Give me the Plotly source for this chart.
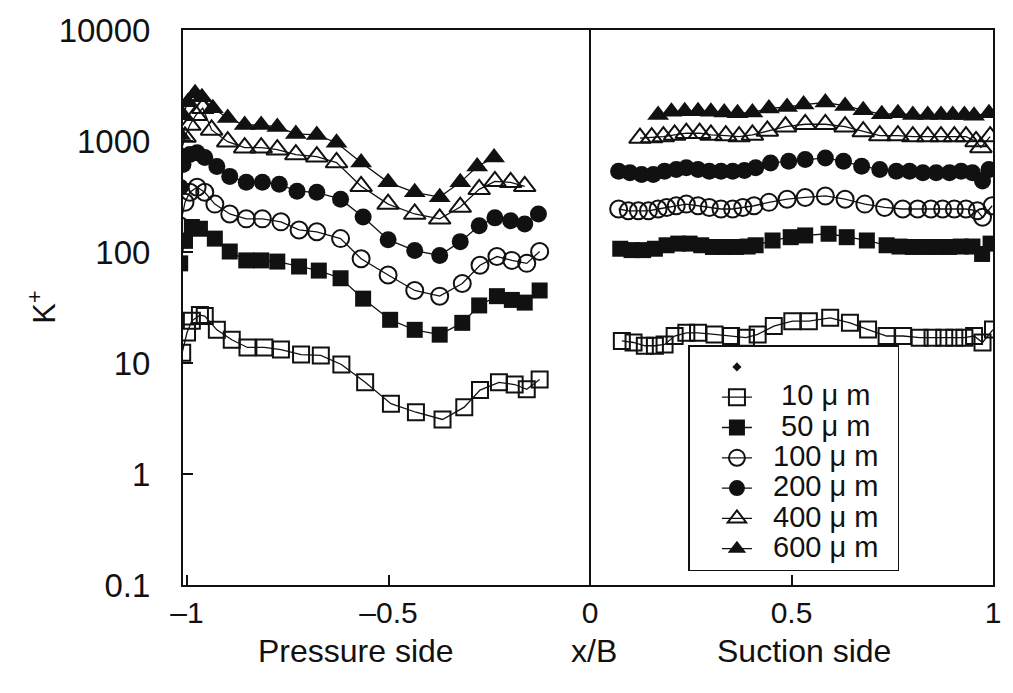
import plotly.graph_objects as go

# ---- K+ profiles along the blade, x/B < 0: pressure side, x/B > 0: suction side ----

# 10 um
x10_p = [-1.012, -1.0, -0.988, -0.968, -0.956, -0.926, -0.889, -0.850, -0.808, -0.767, -0.717, -0.668,
         -0.617, -0.558, -0.494, -0.432, -0.366, -0.312, -0.273, -0.226, -0.187, -0.157, -0.125]
k10_p = [12.4, 18.8, 24, 27, 26.5, 19.9, 16.2, 13.8, 13.8, 13.2, 11.9, 11.7,
         9.7, 6.7, 4.3, 3.6, 3.1, 4.0, 5.7, 6.7, 6.4, 5.8, 7.1]
x10_s = [0.079, 0.108, 0.136, 0.161, 0.185, 0.210, 0.239, 0.268, 0.309, 0.350, 0.387, 0.416, 0.456, 0.502,
         0.543, 0.596, 0.645, 0.690, 0.736, 0.777, 0.818, 0.850, 0.879, 0.904, 0.929, 0.953, 0.974, 1.0]
k10_s = [15.8, 15.3, 14.3, 14.3, 14.7, 17.5, 18.7, 18.7, 18.1, 17.5, 16.9, 18.1, 21.5, 23.8,
         23.8, 25.5, 23, 20, 17.5, 17.5, 16.9, 16.9, 16.9, 16.9, 16.9, 17.5, 15.3, 20]

# 50 um
x50_p = [-1.017, -1.005, -0.988, -0.968, -0.931, -0.894, -0.853, -0.816, -0.776, -0.722, -0.673, -0.619,
         -0.563, -0.496, -0.435, -0.373, -0.317, -0.275, -0.231, -0.194, -0.162, -0.125]
k50_p = [79, 126, 168, 162, 132, 101, 84, 84, 82, 74, 68, 58,
         38, 24.5, 19.9, 18, 23, 33, 40, 37, 35, 45]
x50_s = [0.075, 0.103, 0.132, 0.161, 0.190, 0.219, 0.247, 0.276, 0.305, 0.334, 0.362, 0.391, 0.411, 0.453,
         0.498, 0.534, 0.592, 0.637, 0.687, 0.736, 0.768, 0.801, 0.834, 0.862, 0.891, 0.920, 0.949, 0.973, 0.994]
k50_s = [107, 104, 104, 107, 115, 119, 119, 115, 111, 111, 111, 112, 115, 127,
         136, 141, 146, 136, 127, 115, 112, 111, 111, 111, 111, 112, 112, 96, 119]

# 100 um
x100_p = [-1.017, -1.005, -0.993, -0.975, -0.956, -0.931, -0.894, -0.853, -0.813, -0.767, -0.722, -0.678,
          -0.619, -0.568, -0.501, -0.435, -0.373, -0.317, -0.273, -0.231, -0.194, -0.157, -0.125]
k100_p = [172, 281, 345, 383, 345, 270, 220, 199, 199, 187, 158, 152,
          132, 87, 62, 45, 40, 52, 76, 91, 84, 79, 101]
x100_s = [0.071, 0.095, 0.120, 0.145, 0.169, 0.190, 0.214, 0.239, 0.268, 0.296, 0.325, 0.354, 0.379, 0.407,
          0.444, 0.489, 0.534, 0.584, 0.633, 0.682, 0.731, 0.776, 0.813, 0.846, 0.875, 0.904, 0.933, 0.961,
          0.974, 0.998]
k100_s = [244, 235, 235, 235, 244, 252, 261, 270, 261, 252, 244, 244, 252, 261,
          280, 299, 310, 320, 299, 270, 252, 244, 244, 244, 244, 244, 244, 235,
          206, 261]

# 200 um
x200_p = [-1.017, -1.010, -0.993, -0.975, -0.956, -0.926, -0.894, -0.853, -0.813, -0.771, -0.727, -0.678,
          -0.619, -0.563, -0.501, -0.435, -0.373, -0.322, -0.275, -0.236, -0.197, -0.162, -0.128]
k200_p = [383, 614, 754, 785, 709, 589, 480, 424, 424, 407, 353, 345,
          299, 207, 129, 103, 93, 124, 172, 203, 191, 179, 220]
x200_s = [0.071, 0.099, 0.128, 0.157, 0.185, 0.214, 0.239, 0.268, 0.296, 0.325, 0.354, 0.383, 0.411, 0.448,
          0.493, 0.534, 0.584, 0.629, 0.674, 0.719, 0.760, 0.793, 0.826, 0.859, 0.892, 0.921, 0.949, 0.974,
          0.990]
k200_s = [535, 517, 500, 500, 535, 554, 573, 554, 535, 535, 535, 542, 573, 635,
          656, 680, 704, 656, 593, 554, 535, 535, 517, 517, 517, 535, 517, 436,
          554]

# 400 um
x400_p = [-1.017, -1.005, -0.993, -0.978, -0.961, -0.939, -0.899, -0.857, -0.816, -0.776, -0.730, -0.678,
          -0.629, -0.568, -0.501, -0.435, -0.373, -0.322, -0.275, -0.236, -0.197, -0.162]
k400_p = [754, 1089, 1393, 1710, 1976, 1259, 985, 870, 870, 835, 754, 723,
          640, 391, 270, 220, 199, 254, 367, 433, 424, 391]
x400_s = [0.124, 0.153, 0.182, 0.210, 0.239, 0.272, 0.300, 0.337, 0.370, 0.403, 0.440, 0.485, 0.534,
          0.584, 0.633, 0.678, 0.719, 0.764, 0.801, 0.838, 0.871, 0.904, 0.933, 0.958, 0.970, 0.993]
k400_s = [1062, 1074, 1096, 1135, 1175, 1175, 1135, 1119, 1096, 1135, 1233, 1346, 1415,
          1415, 1346, 1216, 1119, 1119, 1096, 1096, 1096, 1096, 1096, 990, 875, 1096]

# 600 um
x600_p = [-1.017, -1.010, -0.998, -0.980, -0.963, -0.936, -0.899, -0.857, -0.816, -0.776, -0.730, -0.678,
          -0.629, -0.568, -0.501, -0.435, -0.373, -0.322, -0.280, -0.238]
k600_p = [1135, 1710, 2234, 2690, 2480, 1976, 1611, 1393, 1393, 1338, 1159, 1135,
          964, 640, 424, 345, 312, 424, 589, 709]
x600_s = [0.169, 0.202, 0.235, 0.268, 0.300, 0.333, 0.366, 0.403, 0.444, 0.489, 0.530, 0.584,
          0.633, 0.678, 0.724, 0.764, 0.801, 0.838, 0.871, 0.900, 0.929, 0.953, 0.990]
k600_s = [1713, 1832, 1858, 1858, 1832, 1810, 1774, 1810, 1963, 2028, 2131, 2222,
          2072, 1897, 1738, 1774, 1713, 1713, 1713, 1713, 1713, 1689, 1774]

series_names = ["10 \u03bc m", "50 \u03bc m", "100 \u03bc m", "200 \u03bc m", "400 \u03bc m", "600 \u03bc m"]
series_symbols = ["square-open", "square", "circle-open", "circle", "triangle-up-open", "triangle-up"]
series_data = [
    (x10_p, k10_p, x10_s, k10_s),
    (x50_p, k50_p, x50_s, k50_s),
    (x100_p, k100_p, x100_s, k100_s),
    (x200_p, k200_p, x200_s, k200_s),
    (x400_p, k400_p, x400_s, k400_s),
    (x600_p, k600_p, x600_s, k600_s),
]

x_ticks = [-1, -0.5, 0, 0.5, 1]
x_ticktext = ["\u20131", "\u20130.5", "0", "0.5", "1"]
y_ticks = [0.1, 1, 10, 100, 1000, 10000]
y_ticktext = ["0.1", "1", "10", "100", "1000", "10000"]

INK = "#111111"
FONT = "Liberation Sans, Arial, sans-serif"
NBSP = "\u00a0"


def legend_label(name):
    # two-digit sizes are nudged right so the unit columns line up
    pad = NBSP * (3 if len(name.split()[0]) == 2 else 2)
    return '<span style="font-size:29px">' + pad + name + NBSP + "\u2009</span>"


fig = go.Figure()

# lone diamond key at the top of the legend
fig.add_trace(go.Scatter(
    x=[None], y=[None], mode="markers", name=NBSP,
    marker=dict(symbol="diamond", size=7, color=INK),
))

for name, sym, (xp, kp, xs, ks) in zip(series_names, series_symbols, series_data):
    is_open = sym.endswith("-open")
    if sym.startswith("triangle"):
        size = 19
    elif sym.startswith("circle"):
        size = 17
    else:
        size = 16
    fig.add_trace(go.Scatter(
        x=list(xp) + [None] + list(xs),
        y=list(kp) + [None] + list(ks),
        mode="lines+markers",
        name=legend_label(name),
        connectgaps=False,
        line=dict(color=INK, width=1.3),
        marker=dict(symbol=sym, size=size, color=INK,
                    line=dict(color=INK, width=2 if is_open else 0)),
    ))

# dividing line between pressure and suction side
fig.add_shape(type="line", xref="x", yref="paper", x0=0, x1=0, y0=0, y1=1,
              line=dict(color=INK, width=2))

title_y = -0.119
annotations = [
    dict(text="K<sup>+</sup>", xref="paper", yref="paper", x=-0.175, y=0.5,
         xanchor="center", yanchor="middle",
         textangle=-90, showarrow=False, font=dict(size=31, family=FONT, color=INK)),
    dict(text="Pressure side", xref="x", yref="paper", x=-0.58, y=title_y,
         xanchor="center", yanchor="middle",
         showarrow=False, font=dict(size=32, family=FONT, color=INK)),
    dict(text="x/B", xref="x", yref="paper", x=0.01, y=title_y,
         xanchor="center", yanchor="middle",
         showarrow=False, font=dict(size=32, family=FONT, color=INK)),
    dict(text="Suction side", xref="x", yref="paper", x=0.53, y=title_y,
         xanchor="center", yanchor="middle",
         showarrow=False, font=dict(size=32, family=FONT, color=INK)),
]

fig.update_layout(
    width=1013, height=693,
    margin=dict(l=183, r=12, t=22, b=108),
    paper_bgcolor="white", plot_bgcolor="white",
    font=dict(family=FONT, color=INK),
    annotations=annotations,
    showlegend=True,
    legend=dict(
        x=0.624, y=0.432, xanchor="left", yanchor="top",
        bgcolor="white", bordercolor=INK, borderwidth=1.5,
        font=dict(size=21, family=FONT, color=INK),
        indentation=27, tracegroupgap=0, itemsizing="trace",
    ),
    xaxis=dict(
        range=[-1.01, 1.0], tickmode="array", tickvals=x_ticks, ticktext=x_ticktext,
        ticks="inside", ticklen=10, tickwidth=1.5, tickcolor=INK,
        showline=True, linecolor=INK, linewidth=2, mirror=True,
        showgrid=False, zeroline=False,
        tickfont=dict(size=30, family=FONT, color=INK),
    ),
    yaxis=dict(
        type="log", range=[-1, 4], tickmode="array", tickvals=y_ticks, ticktext=y_ticktext,
        ticks="inside", ticklen=10, tickwidth=1.5, tickcolor=INK,
        showline=True, linecolor=INK, linewidth=2, mirror=True,
        showgrid=False, zeroline=False, ticklabelstandoff=24,
        tickfont=dict(size=33, family=FONT, color=INK),
    ),
)

fig.write_html("out.html")
